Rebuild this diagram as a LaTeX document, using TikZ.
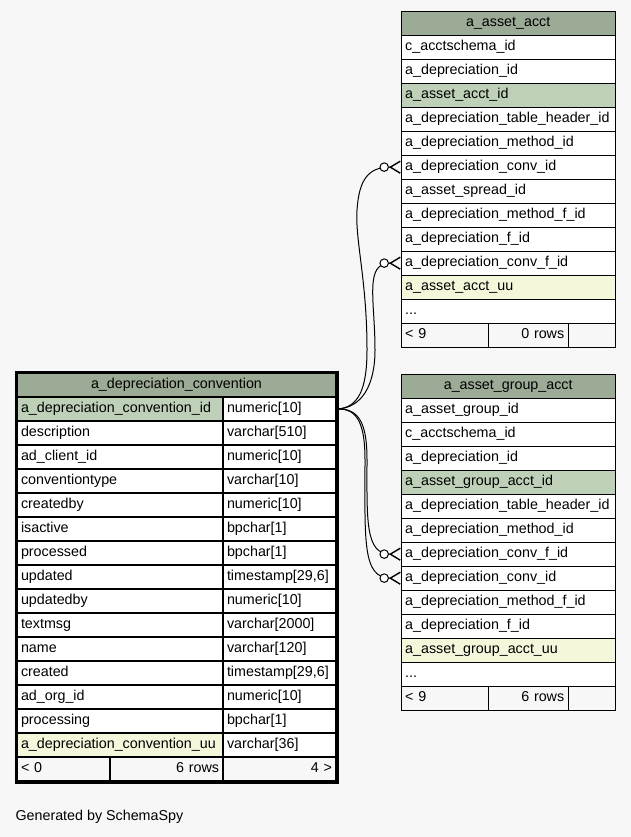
\documentclass[tikz,border=0pt]{standalone}
\usepackage{fontspec}
\setmainfont{Liberation Sans}
\usetikzlibrary{arrows.meta}
\definecolor{bgcol}{HTML}{F7F7F7}
\definecolor{headcol}{HTML}{9CAB96}
\definecolor{pkcol}{HTML}{BED1B8}
\definecolor{uucol}{HTML}{F4F7DA}
\newcommand{\rowdots}{...}

\begin{document}
\begin{tikzpicture}[
    x=1pt, y=-1pt,
    font=\fontsize{14.3}{16}\selectfont,
    cell/.style={draw, fill=white, anchor=north west, minimum height=24pt, inner xsep=4pt, inner ysep=0pt, text height=10.5pt, text depth=3pt, align=left},
    thead/.style={cell, fill=headcol, align=center},
    tfoot/.style={cell, fill=bgcol},
    fk/.style={line width=1pt, -{Circle[open, fill=white, length=9.5pt, width=9.5pt] Straight Barb[reversed, length=10pt, width=12pt, line width=1.4pt]}}
]

\fill[bgcol] (0,0) rectangle (631,837);
\useasboundingbox (0,0) rectangle (631,837);

% a_asset_acct
\node[thead, text width=206pt] (acct-head) at (401,11) {a\_asset\_acct};
\foreach \colname/\colfill [count=\i] in {c\_acctschema\_id/white, a\_depreciation\_id/white, a\_asset\_acct\_id/pkcol, a\_depreciation\_table\_header\_id/white, a\_depreciation\_method\_id/white, a\_depreciation\_conv\_id/white, a\_asset\_spread\_id/white, a\_depreciation\_method\_f\_id/white, a\_depreciation\_f\_id/white, a\_depreciation\_conv\_f\_id/white, a\_asset\_acct\_uu/uucol, \rowdots/white} {
    \pgfmathsetmacro{\y}{35 + (\i-1)*24}
    \node[cell, fill=\colfill, text width=206pt] (acct-\i) at (401,\y) {\colname};
}
\node[tfoot, text width=79pt] (acct-min) at (401,323) {< 9};
\node[tfoot, text width=72pt, align=right] (acct-rows) at (488,323) {0 rows};
\node[tfoot, text width=39pt] (acct-max) at (568,323) {};

% a_asset_group_acct
\node[thead, text width=206pt] (grp-head) at (401,374) {a\_asset\_group\_acct};
\foreach \colname/\colfill [count=\i] in {a\_asset\_group\_id/white, c\_acctschema\_id/white, a\_depreciation\_id/white, a\_asset\_group\_acct\_id/pkcol, a\_depreciation\_table\_header\_id/white, a\_depreciation\_method\_id/white, a\_depreciation\_conv\_f\_id/white, a\_depreciation\_conv\_id/white, a\_depreciation\_method\_f\_id/white, a\_depreciation\_f\_id/white, a\_asset\_group\_acct\_uu/uucol, \rowdots/white} {
    \pgfmathsetmacro{\y}{398 + (\i-1)*24}
    \node[cell, fill=\colfill, text width=206pt] (grp-\i) at (401,\y) {\colname};
}
\node[tfoot, text width=79pt] (grp-min) at (401,686) {< 9};
\node[tfoot, text width=72pt, align=right] (grp-rows) at (488,686) {6 rows};
\node[tfoot, text width=39pt] (grp-max) at (568,686) {};

% a_depreciation_convention
\begin{scope}[every node/.append style={line width=2pt}]
\node[thead, text width=311pt] (dc-head) at (16,372) {a\_depreciation\_convention};
\foreach \colname/\coltype/\colfill [count=\i] in {a\_depreciation\_convention\_id/numeric[10]/pkcol, description/varchar[510]/white, ad\_client\_id/numeric[10]/white, conventiontype/varchar[10]/white, createdby/numeric[10]/white, isactive/bpchar[1]/white, processed/bpchar[1]/white, updated/{timestamp[29,6]}/white, updatedby/numeric[10]/white, textmsg/varchar[2000]/white, name/varchar[120]/white, created/{timestamp[29,6]}/white, ad\_org\_id/numeric[10]/white, processing/bpchar[1]/white, a\_depreciation\_convention\_uu/varchar[36]/uucol} {
    \pgfmathsetmacro{\y}{396 + (\i-1)*24}
    \node[cell, fill=\colfill, text width=198pt] (dc-\i) at (16,\y) {\colname};
    \node[cell, text width=105pt] (dc-\i-type) at (222,\y) {\coltype};
}
\node[tfoot, text width=85pt] (dc-min) at (16,756) {< 0};
\node[tfoot, text width=105pt, align=right] (dc-rows) at (109,756) {6 rows};
\node[tfoot, text width=105pt, align=right] (dc-max) at (222,756) {4 >};
\end{scope}
\draw[line width=3pt] (dc-head.north west) rectangle (dc-max.south east);

% foreign keys
\draw[fk] (dc-1-type.east) .. controls (358,408) and (367,390) .. (367,350)
    .. controls (367,280) and (355,240) .. (357,210)
    .. controls (359,180) and (368,167) .. (acct-6.west);
\draw[fk] (dc-1-type.east) .. controls (362,408) and (375,385) .. (375,350)
    .. controls (375,300) and (364,263) .. (acct-10.west);
\draw[fk] (dc-1-type.east) .. controls (360,408) and (367,425) .. (367,460)
    .. controls (367,520) and (365,554) .. (grp-7.west);
\draw[fk] (dc-1-type.east) .. controls (358,408) and (365,425) .. (365,460)
    .. controls (365,540) and (362,578) .. (grp-8.west);

\node[anchor=west] (credit) at (12,817) {Generated by SchemaSpy};

\end{tikzpicture}
\end{document}
